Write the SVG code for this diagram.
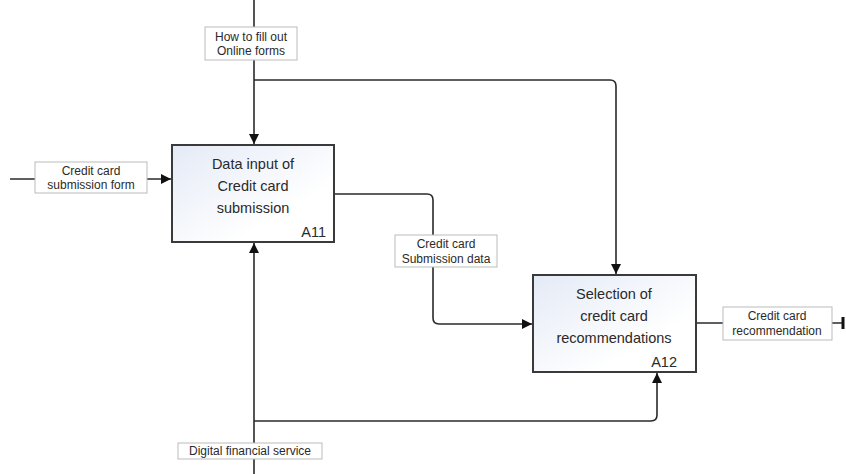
<svg xmlns="http://www.w3.org/2000/svg" width="846" height="474" viewBox="0 0 846 474">
<style>
.box{fill:url(#g);stroke:#3a3a3a;stroke-width:2}
.t{font-family:"Liberation Sans",Arial,sans-serif;font-size:14.5px;fill:#2a2a2a;text-anchor:middle}
.id{font-family:"Liberation Sans",Arial,sans-serif;font-size:14.5px;fill:#2a2a2a;text-anchor:end}
.lb{fill:#fff;stroke:#bbb;stroke-width:1}
.lt{font-family:"Liberation Sans",Arial,sans-serif;font-size:12px;fill:#2a2a2a;text-anchor:middle}
.c{fill:none;stroke:#2a2a2a;stroke-width:1.6}
</style>
<defs>
<linearGradient id="g" x1="0" y1="0" x2="1" y2="1">
<stop offset="0" stop-color="#e4eaf6"/>
<stop offset="0.7" stop-color="#ffffff"/>
</linearGradient>
<marker id="a" viewBox="0 0 10 10" refX="10" refY="5" markerWidth="10" markerHeight="10" markerUnits="userSpaceOnUse" orient="auto">
<path d="M0,0L10,5L0,10z" fill="#111"/>
</marker>
</defs>
<g id="connectors">
<path class="c" d="M254,0V144" marker-end="url(#a)"/>
<path class="c" d="M254,80H610Q616,80 616,86V274" marker-end="url(#a)"/>
<path class="c" d="M10,179H171" marker-end="url(#a)"/>
<path class="c" d="M334,194H427Q433,194 433,200V318Q433,324 439,324H532" marker-end="url(#a)"/>
<path class="c" d="M696,323H844"/>
<path d="M843,317V329" stroke="#111" stroke-width="3"/>
<path class="c" d="M254,474V243" marker-end="url(#a)"/>
<path class="c" d="M254,421H651Q657,421 657,415V373" marker-end="url(#a)"/>
</g>
<g id="label-how">
<rect class="lb" x="205" y="27" width="92" height="33"/>
<text class="lt" x="251" y="41">How to fill out</text>
<text class="lt" x="251" y="55">Online forms</text>
</g>
<g id="label-form">
<rect class="lb" x="35" y="162" width="112" height="31"/>
<text class="lt" x="91" y="175">Credit card</text>
<text class="lt" x="91" y="189">submission form</text>
</g>
<g id="label-data">
<rect class="lb" x="395" y="235" width="102" height="32"/>
<text class="lt" x="446" y="248">Credit card</text>
<text class="lt" x="446" y="263">Submission data</text>
</g>
<g id="label-rec">
<rect class="lb" x="723" y="307" width="109" height="33"/>
<text class="lt" x="777" y="320">Credit card</text>
<text class="lt" x="777" y="335">recommendation</text>
</g>
<g id="label-dfs">
<rect class="lb" x="178" y="443" width="144" height="16"/>
<text class="lt" x="250" y="455">Digital financial service</text>
</g>
<g id="A11">
<rect class="box" x="172" y="145" width="162" height="97"/>
<text class="t" x="253" y="169">Data input of</text>
<text class="t" x="253" y="191">Credit card</text>
<text class="t" x="253" y="213">submission</text>
<text class="id" x="326" y="237">A11</text>
</g>
<g id="A12">
<rect class="box" x="533" y="275" width="163" height="97"/>
<text class="t" x="614" y="299">Selection of</text>
<text class="t" x="614" y="321">credit card</text>
<text class="t" x="614" y="343">recommendations</text>
<text class="id" x="677" y="367">A12</text>
</g>
</svg>
